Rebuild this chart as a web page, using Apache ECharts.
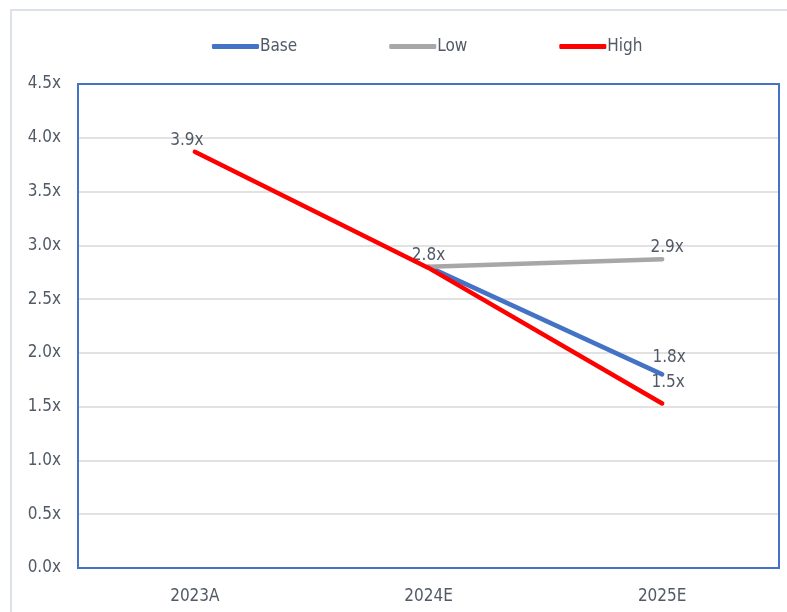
<!DOCTYPE html>
<html>
<head>
<meta charset="utf-8">
<title>Leverage scenarios</title>
<script src="https://cdn.jsdelivr.net/npm/echarts@6/dist/echarts.min.js"></script>
<style>
  html, body { margin: 0; padding: 0; background: #ffffff; }
  #chart { width: 787px; height: 612px; }
</style>
</head>
<body>
<div id="chart"></div>
<script>
// Categories and scenario values (multiple of EBITDA)
const categories = ['2023A', '2024E', '2025E'];
const baseValues = [null, 2.8, 1.8];
const lowValues = [null, 2.8, 2.87];
const highValues = [3.87, 2.79, 1.53];
const yTicks = [0, 0.5, 1, 1.5, 2, 2.5, 3, 3.5, 4, 4.5];

const FONT = '"DejaVu Sans Condensed", "Liberation Sans", sans-serif';
const TEXT = '#525a66';
const FS = 17;

const fmt = v => v.toFixed(1) + 'x';

// Per-point label settings: which points carry a value label and where it sits
function withLabels(values, labelOffsets) {
  return values.map((v, i) => {
    if (v === null) return null;
    const off = labelOffsets[i];
    if (!off) return { value: v, label: { show: false } };
    return { value: v, label: { show: true, offset: off } };
  });
}

const chart = echarts.init(document.getElementById('chart'), null, { renderer: 'canvas' });

const labelStyle = {
  position: 'top',
  distance: 6,
  color: TEXT,
  fontFamily: FONT,
  fontSize: FS,
  formatter: p => fmt(p.value)
};

function lineSeries(name, color, width, data, z) {
  return {
    name: name,
    type: 'line',
    data: data,
    symbol: 'circle',
    symbolSize: 0,
    showSymbol: true,
    connectNulls: false,
    lineStyle: { color: color, width: width, cap: 'round' },
    itemStyle: { color: color },
    label: Object.assign({}, labelStyle),
    emphasis: { disabled: true },
    z: z
  };
}

chart.setOption({
  animation: false,
  backgroundColor: '#ffffff',
  graphic: [{
    type: 'rect',
    shape: { x: 11, y: 10, width: 800, height: 640 },
    style: { fill: 'none', stroke: '#dde2ea', lineWidth: 2 },
    silent: true,
    z: -10
  }, {
    // plot-area frame
    type: 'rect',
    shape: { x: 78, y: 84, width: 701, height: 484 },
    style: { fill: 'none', stroke: '#4472c4', lineWidth: 2 },
    silent: true,
    z: 1
  }],
  legend: {
    top: 33,
    left: 207,
    icon: 'roundRect',
    itemWidth: 47,
    itemHeight: 5,
    itemGap: 92,
    textStyle: { color: TEXT, fontFamily: FONT, fontSize: FS, padding: [0, 0, 0, -4] },
    data: ['Base', 'Low', 'High']
  },
  grid: {
    left: 78,
    right: 8,
    top: 84,
    bottom: 44,
    show: false
  },
  xAxis: {
    type: 'category',
    data: categories,
    boundaryGap: true,
    axisLine: { show: false },
    axisTick: { show: false },
    axisLabel: { color: TEXT, fontFamily: FONT, fontSize: FS, margin: 20 }
  },
  yAxis: {
    type: 'value',
    min: yTicks[0],
    max: yTicks[yTicks.length - 1],
    interval: 0.5,
    axisLine: { show: false },
    axisTick: { show: false },
    splitLine: { showMinLine: false, showMaxLine: false, lineStyle: { color: '#d9d9d9', width: 1.5 } },
    axisLabel: { color: TEXT, fontFamily: FONT, fontSize: FS, margin: 17, formatter: v => fmt(v) }
  },
  series: [
    lineSeries('Base', '#4472c4', 4.5, withLabels(baseValues, [null, null, [7, -2]]), 2),
    lineSeries('Low', '#a9a6a6', 4.5, withLabels(lowValues, [null, [0, 3], [5, 3]]), 3),
    lineSeries('High', '#ff0000', 4.5, withLabels(highValues, [[-8, 3], null, [6, -6]]), 4)
  ]
});
</script>
</body>
</html>
